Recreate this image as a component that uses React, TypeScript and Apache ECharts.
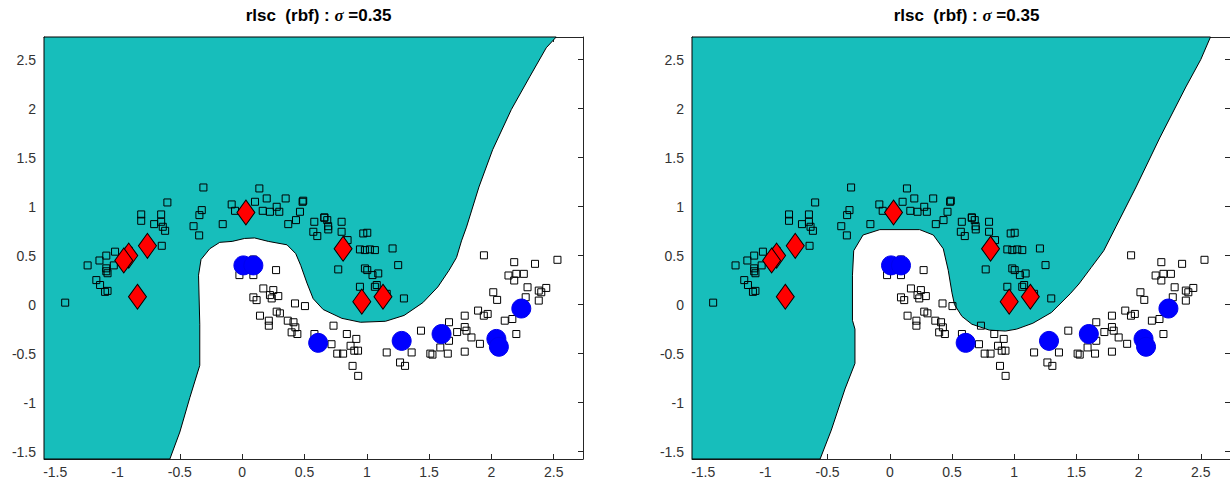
import React, { useEffect, useRef } from "react";
import * as echarts from "echarts";

const xTicks = [-1.5, -1, -0.5, 0, 0.5, 1, 1.5, 2, 2.5];
const yTicks = [-1.5, -1, -0.5, 0, 0.5, 1, 1.5, 2, 2.5];
const X_MIN = -1.59;
const X_MAX = 2.735;
const Y_MIN = -1.575;
const Y_MAX = 2.73;

const titleText = "rlsc  (rbf) : ";
const sigmaText = "σ";
const titleValue = " =0.35";

// decision region (class -1, teal) boundary polygons, in data units
const leftRegion = [
  [-1.59, 2.73], [2.52, 2.73], [2.44, 2.62], [2.31, 2.33], [2.16, 1.99], [2.01, 1.58],
  [1.9, 1.2], [1.8, 0.79], [1.76, 0.65], [1.72, 0.48], [1.66, 0.35], [1.57, 0.18],
  [1.45, 0.02], [1.3, -0.11], [1.15, -0.17], [0.95, -0.18], [0.8, -0.14], [0.65, -0.05],
  [0.57, 0.06], [0.52, 0.22], [0.47, 0.4], [0.43, 0.52], [0.36, 0.61], [0.21, 0.645],
  [0.1, 0.68], [0.02, 0.675], [-0.08, 0.645], [-0.18, 0.635], [-0.26, 0.57], [-0.33, 0.46],
  [-0.35, 0.3], [-0.34, -0.2], [-0.34, -0.62], [-0.42, -0.95], [-0.5, -1.3], [-0.58, -1.575],
  [-1.59, -1.575],
];
const rightRegion = [
  [-1.59, 2.73], [2.578, 2.73], [2.5, 2.5], [2.38, 2.22], [2.17, 1.7], [1.98, 1.2],
  [1.82, 0.8], [1.72, 0.55], [1.62, 0.38], [1.52, 0.21], [1.45, 0.11], [1.3, -0.08],
  [1.15, -0.19], [1.02, -0.25], [0.93, -0.27], [0.8, -0.26], [0.66, -0.2], [0.58, -0.12],
  [0.52, 0.0], [0.5, 0.12], [0.47, 0.35], [0.43, 0.57], [0.35, 0.71], [0.24, 0.765],
  [-0.08, 0.765], [-0.215, 0.71], [-0.29, 0.55], [-0.3, 0.3], [-0.3, -0.16], [-0.28, -0.25],
  [-0.28, -0.6], [-0.36, -0.86], [-0.47, -1.28], [-0.56, -1.575], [-1.59, -1.575],
];

// unlabeled points
const unlabeled = [
  [-1.42, 0.02], [-1.24, 0.4], [-1.17, 0.25], [-1.14, 0.2], [-1.08, 0.14], [-1.1, 0.13],
  [-1.09, 0.5], [-1.145, 0.45], [-1.09, 0.37], [-1.08, 0.32], [-1.09, 0.34], [-1.02, 0.54],
  [-1.03, 0.4], [-0.81, 0.92], [-0.81, 0.855], [-0.65, 0.92], [-0.65, 0.845], [-0.706, 0.821],
  [-0.637, 0.794], [-0.618, 0.753], [-0.645, 0.6], [-0.6, 1.042], [-0.311, 1.195], [-0.324, 0.964],
  [-0.343, 0.913], [-0.39, 0.8], [-0.345, 0.706], [-0.156, 0.821], [-0.084, 1.022], [-0.057, 0.957],
  [0.138, 1.185], [0.103, 1.049], [0.197, 1.083], [0.165, 0.957], [0.223, 0.947], [0.277, 0.998],
  [0.298, 0.947], [0.349, 1.083], [0.485, 1.049], [0.49, 1.06], [0.464, 0.947], [0.432, 0.862],
  [0.37, 0.821], [0.579, 0.845], [0.571, 0.743], [0.603, 0.699], [0.659, 0.886], [0.683, 0.862],
  [0.691, 0.767], [0.798, 0.845], [0.798, 0.743], [0.972, 0.726], [1.004, 0.733], [0.846, 0.658],
  [0.771, 0.359], [0.945, 0.563], [0.985, 0.556], [1.025, 0.563], [1.065, 0.556], [1.207, 0.573],
  [1.252, 0.403], [0.985, 0.369], [1.004, 0.352], [1.046, 0.301], [1.092, 0.318], [0.945, 0.182],
  [1.065, 0.182], [1.298, 0.063], [1.16, 0.11], [0.66, 0.89], [0.69, 0.8], [-0.91, 0.55],
  [1.08, 0.2], [-0.022, 0.301], [0.09, 0.301], [0.09, 0.46], [0.272, 0.352], [0.17, 0.165],
  [0.25, 0.148], [0.223, 0.097], [0.29, 0.087], [0.09, 0.074], [0.116, 0.046], [0.237, 0.063],
  [0.424, 0.012], [0.504, -0.015], [0.143, -0.113], [0.277, -0.072], [0.303, -0.089], [0.214, -0.164],
  [0.214, -0.215], [0.366, -0.164], [0.412, -0.18], [0.427, -0.232], [0.397, -0.283], [0.443, -0.3],
  [0.58, -0.3], [0.717, -0.404], [0.733, -0.215], [0.84, -0.3], [0.916, -0.35], [0.87, -0.42],
  [0.9, -0.47], [0.763, -0.5], [0.81, -0.5], [0.93, -0.47], [0.886, -0.625], [0.931, -0.727],
  [1.16, -0.488], [1.267, -0.59], [1.307, -0.625], [1.36, -0.488], [1.435, -0.266], [1.51, -0.5],
  [1.527, -0.51], [1.59, -0.437], [1.65, -0.5], [1.66, -0.369], [1.66, -0.18], [1.725, -0.28],
  [1.786, -0.229], [1.786, -0.113], [1.8, -0.266], [1.84, -0.335], [1.786, -0.48], [1.893, -0.061],
  [1.939, -0.113], [1.97, -0.095], [1.908, -0.4], [2.015, 0.126], [2.046, 0.048], [1.94, 0.503],
  [2.107, -0.164], [2.168, -0.147], [2.2, -0.3], [2.137, 0.297], [2.183, 0.246], [2.183, 0.433],
  [2.2, 0.314], [2.26, 0.314], [2.29, 0.177], [2.275, 0.075], [2.35, 0.416], [2.38, 0.143],
  [2.4, 0.126], [2.38, 0.041], [2.44, 0.17], [2.53, 0.457], [1.28, -0.33], [1.6, -0.27],
  [2.05, -0.33], [0.0, 0.36], [0.62, -0.35],
];

// labeled class -1 (red diamonds)
const negLabeled = [
  [0.03, 0.94], [-0.76, 0.6], [-0.91, 0.5], [-0.95, 0.45], [-0.84, 0.08],
  [0.81, 0.57], [0.96, 0.03], [1.13, 0.08],
];
// labeled class +1 (blue circles)
const posLabeled = [
  [0.01, 0.4], [0.09, 0.4], [0.61, -0.39], [1.28, -0.37], [1.6, -0.3],
  [2.04, -0.35], [2.06, -0.43], [2.24, -0.04],
];

const TEAL = "#17bebb";
const AXIS = "#262626";
const FONT = "'Liberation Sans', Arial, Helvetica, sans-serif";

const grids = [
  { left: 44, top: 37, width: 539, height: 422 },
  { left: 692, top: 37, width: 539, height: 422 },
];

export default function App() {
  const ref = useRef<HTMLDivElement>(null);
  useEffect(() => {
    document.body.style.margin = "0";
    if (!ref.current) return;
    const chart = echarts.init(ref.current, undefined, { renderer: "svg" });

    const xAxes: any[] = [];
    const yAxes: any[] = [];
    grids.forEach((_, gi) => {
      ["bottom", "top"].forEach((pos) => {
        xAxes.push({
          type: "value",
          gridIndex: gi,
          position: pos,
          min: X_MIN,
          max: X_MAX,
          splitLine: { show: false },
          axisLine: { show: true, onZero: false, lineStyle: { color: AXIS, width: 1 } },
          axisTick: { show: true, inside: true, length: 5, customValues: xTicks, lineStyle: { color: AXIS } },
          axisLabel: {
            show: pos === "bottom",
            customValues: xTicks,
            margin: 6,
            color: "#333",
            fontSize: 14,
            fontFamily: FONT,
          },
        });
      });
      ["left", "right"].forEach((pos) => {
        yAxes.push({
          type: "value",
          gridIndex: gi,
          position: pos,
          min: Y_MIN,
          max: Y_MAX,
          splitLine: { show: false },
          axisLine: { show: true, onZero: false, lineStyle: { color: AXIS, width: 1 } },
          axisTick: { show: true, inside: true, length: 5, customValues: yTicks, lineStyle: { color: AXIS } },
          axisLabel: {
            show: pos === "left",
            customValues: yTicks,
            margin: 8,
            color: "#333",
            fontSize: 14,
            fontFamily: FONT,
          },
        });
      });
    });

    const series: any[] = [];
    [leftRegion, rightRegion].forEach((region, gi) => {
      const xi = gi * 2;
      const yi = gi * 2;
      series.push({
        type: "custom",
        xAxisIndex: xi,
        yAxisIndex: yi,
        silent: true,
        z: 1,
        data: [region[0]],
        renderItem: (_params: any, api: any) => {
          const pts = region.map((p) => api.coord(p));
          return {
            type: "polygon",
            shape: { points: pts },
            style: { fill: TEAL, stroke: "#000", lineWidth: 1 },
          };
        },
      });
      series.push({
        type: "scatter",
        xAxisIndex: xi,
        yAxisIndex: yi,
        z: 3,
        symbol: "rect",
        symbolSize: 7,
        data: unlabeled,
        itemStyle: { color: "rgba(0,0,0,0)", borderColor: "#000", borderWidth: 1, opacity: 1 },
      });
      series.push({
        type: "scatter",
        xAxisIndex: xi,
        yAxisIndex: yi,
        z: 4,
        symbol: "diamond",
        symbolSize: [18, 25],
        data: negLabeled,
        itemStyle: { color: "#ff0000", borderColor: "#000", borderWidth: 1, opacity: 1 },
      });
      series.push({
        type: "scatter",
        xAxisIndex: xi,
        yAxisIndex: yi,
        z: 5,
        symbol: "circle",
        symbolSize: 19,
        data: posLabeled,
        itemStyle: { color: "#0000ff", borderColor: "#0000ee", borderWidth: 1, opacity: 1 },
      });
    });

    const titles = grids.map((g) => ({
      text: `{a|${titleText}}{s|${sigmaText}}{a|${titleValue}}`,
      left: g.left + g.width / 2,
      top: 2,
      textAlign: "center",
      textStyle: {
        rich: {
          a: { fontSize: 17, fontWeight: "bold", color: "#000", fontFamily: FONT },
          s: { fontSize: 17, fontStyle: "italic", color: "#000", fontFamily: "'Liberation Serif', 'DejaVu Serif', serif" },
        },
      },
    }));

    chart.setOption({
      animation: false,
      backgroundColor: "#fff",
      title: titles,
      grid: grids,
      xAxis: xAxes,
      yAxis: yAxes,
      series,
    });
    return () => chart.dispose();
  }, []);
  return <div ref={ref} style={{ width: 1230, height: 486 }} />;
}
